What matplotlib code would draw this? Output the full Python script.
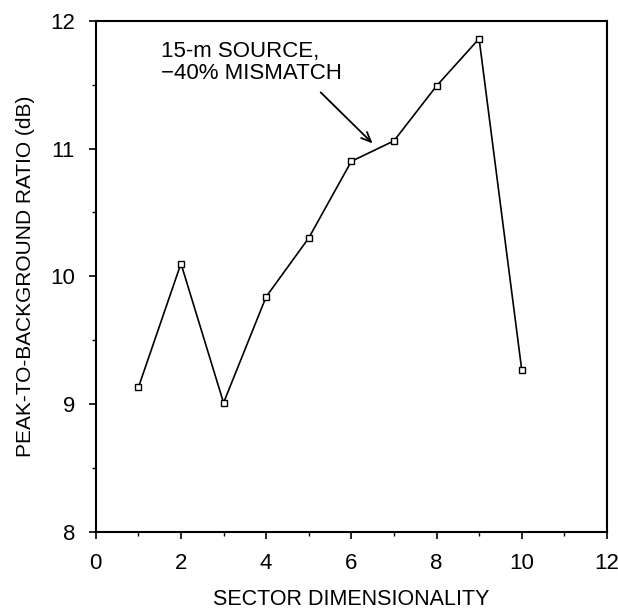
import matplotlib
matplotlib.use('Agg')
import matplotlib.pyplot as plt
from matplotlib.ticker import MultipleLocator

plt.rcParams['font.family'] = ['Liberation Sans', 'DejaVu Sans']

# sector dimensionality vs peak-to-background ratio
dimensionality = [1, 2, 3, 4, 5, 6, 7, 8, 9, 10]
ratio_db = [9.13, 10.1, 9.01, 9.84, 10.3, 10.9, 11.06, 11.49, 11.86, 9.27]

x_ticks = [0, 2, 4, 6, 8, 10, 12]
y_ticks = [8, 9, 10, 11, 12]

fig = plt.figure(figsize=(6.18, 6.12), dpi=100)
ax = fig.add_axes([0.155, 0.131, 0.827, 0.835])

ax.plot(dimensionality, ratio_db, color='black', linewidth=1.2,
        marker='s', markersize=4.5, markerfacecolor='white',
        markeredgecolor='black', markeredgewidth=1.0)

ax.set_xlim(0, 12)
ax.set_ylim(8, 12)
ax.set_xticks(x_ticks)
ax.set_yticks(y_ticks)
ax.xaxis.set_minor_locator(MultipleLocator(1))
ax.yaxis.set_minor_locator(MultipleLocator(0.5))
ax.tick_params(which='major', direction='out', length=5, width=1.2,
               labelsize=16, pad=10, top=False, right=False)
ax.tick_params(which='minor', direction='out', length=3, width=1.0,
               top=False, right=False)
for side in ax.spines.values():
    side.set_linewidth(1.5)

ax.set_xlabel('SECTOR DIMENSIONALITY', fontsize=15.5, labelpad=11)
ax.set_ylabel('PEAK-TO-BACKGROUND RATIO (dB)', fontsize=15, labelpad=11)

ax.text(1.53, 11.675, '15-m SOURCE,\n\u221240% MISMATCH', fontsize=16,
        ha='left', va='center', linespacing=1.1)
ax.annotate('', xy=(6.5, 11.04), xytext=(5.28, 11.44),
            arrowprops=dict(arrowstyle='->,head_length=0.7,head_width=0.3',
                            color='black', lw=1.3, shrinkA=0, shrinkB=0))

fig.savefig('out.png', dpi=100)
